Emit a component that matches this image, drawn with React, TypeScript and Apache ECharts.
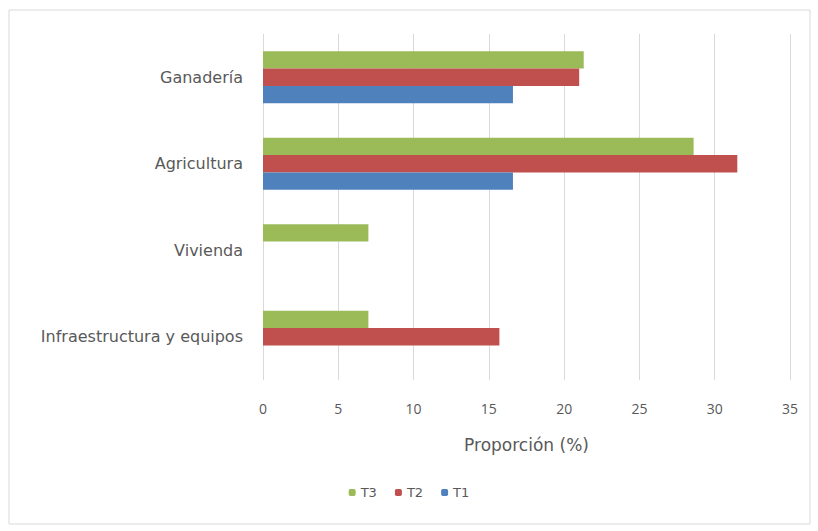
import React, { useEffect, useRef } from "react";
import * as echarts from "echarts";

const categories = ["Infraestructura y equipos", "Vivienda", "Agricultura", "Ganadería"];
const seriesNames = ["T3", "T2", "T1"];
const t3Values = [7.0, 7.0, 28.6, 21.3];
const t2Values = [15.7, null, 31.5, 21.0];
const t1Values = [null, null, 16.6, 16.6];
const colors = ["#9BBB59", "#C0504D", "#4F81BD"];
const legendOrder = ["T3", "T2", "T1"];

export default function App() {
  const ref = useRef<HTMLDivElement>(null);
  useEffect(() => {
    const chart = echarts.init(ref.current!, null, { renderer: "svg" });
    const values = [t3Values, t2Values, t1Values];
    chart.setOption({
      animation: false,
      backgroundColor: "#ffffff",
      textStyle: { fontFamily: "Open Sans" },
      graphic: [
        {
          type: "rect",
          shape: { x: 9, y: 10, width: 801, height: 514 },
          style: { fill: "none", stroke: "#D9D9D9", lineWidth: 1 },
          silent: true,
        },
      ],
      legend: {
        data: legendOrder,
        bottom: 27,
        left: "center",
        itemWidth: 7,
        itemHeight: 7,
        itemGap: 18,
        textStyle: { color: "#595959", fontSize: 13, fontFamily: "DejaVu Sans" },
      },
      grid: { left: 263, right: 28, top: 34, bottom: 151, containLabel: false },
      xAxis: {
        type: "value",
        min: 0,
        max: 35,
        interval: 5,
        name: "Proporción (%)",
        nameLocation: "middle",
        nameGap: 56,
        nameTextStyle: { color: "#595959", fontSize: 17, fontFamily: "DejaVu Sans" },
        axisLine: { show: false },
        axisTick: { show: false },
        axisLabel: { color: "#595959", fontSize: 14, margin: 21 },
        splitLine: { lineStyle: { color: "#D9D9D9" } },
      },
      yAxis: {
        type: "category",
        data: categories,
        axisLine: { show: false },
        axisTick: { show: false },
        axisLabel: { color: "#595959", fontSize: 16, margin: 20, fontFamily: "DejaVu Sans" },
      },
      series: seriesNames.map((name, i) => ({
        name,
        type: "bar",
        data: values[i],
        itemStyle: { color: colors[i] },
        barGap: "0%",
        barCategoryGap: "40%",
      })),
    });
    return () => chart.dispose();
  }, []);
  return (
    <div
      ref={ref}
      style={{ position: "absolute", left: 0, top: 0, width: 818, height: 531 }}
    />
  );
}
